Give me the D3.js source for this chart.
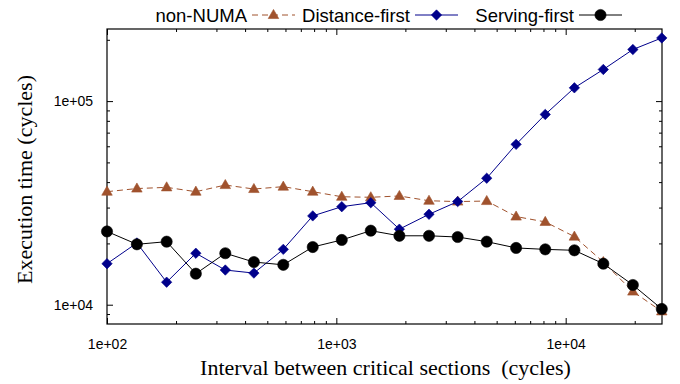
<!DOCTYPE html>
<html>
<head>
<meta charset="utf-8">
<script src="https://cdn.jsdelivr.net/npm/d3@7"></script>
<style>
  body { margin: 0; background: #ffffff; }
  svg { display: block; }
</style>
</head>
<body>
<svg id="chart" width="680" height="384"></svg>
<script>
// Interval between critical sections (cycles)
const intervals = [100, 135, 182, 244, 328, 437, 587, 789, 1056, 1413, 1883, 2535, 3381, 4526, 6079, 8146, 10913, 14592, 19630, 26240];

// Execution time (cycles) per policy
const nonNuma       = [35900, 37200, 37700, 35900, 38700, 37000, 38000, 35900, 33900, 33700, 34200, 32400, 32100, 32300, 27100, 25500, 21600, 16200, 11600, 9270];
const distanceFirst = [15900, 20100, 12900, 17900, 14800, 14300, 18700, 27300, 30300, 31700, 23500, 27800, 32100, 41800, 61300, 86000, 116200, 143000, 179200, 204300];
const servingFirst  = [22900, 19800, 20400, 14200, 17900, 16200, 15700, 19200, 20800, 23100, 21800, 21800, 21500, 20400, 19000, 18700, 18500, 15900, 12500, 9530];

const seriesNames = ["non-NUMA", "Distance-first", "Serving-first"];

const xTickValues = [100, 1000, 10000];
const xTickLabels = ["1e+02", "1e+03", "1e+04"];
const yTickValues = [10000, 100000];
const yTickLabels = ["1e+04", "1e+05"];

const xTitle = "Interval between critical sections  (cycles)";
const yTitle = "Execution time (cycles)";

// ---- layout ----
const plot = { left: 107, right: 662, top: 29, bottom: 324 };
const svg = d3.select("#chart");

const x = d3.scaleLog().domain([100, 26300]).range([plot.left, plot.right]);
const y = d3.scaleLog().domain([8040, 226000]).range([plot.bottom, plot.top]);

const series = [
  { name: seriesNames[0], values: nonNuma,       color: "#a0522d", dash: "6,4", marker: "triangle" },
  { name: seriesNames[1], values: distanceFirst, color: "#00008b", dash: null,  marker: "diamond" },
  { name: seriesNames[2], values: servingFirst,  color: "#000000", dash: null,  marker: "circle" }
];

const tickFont = "'Liberation Sans', Arial, sans-serif";
const titleFont = "'Liberation Serif', 'Times New Roman', serif";

// ---- axes (ticks point inward, mirrored on top and right) ----
const xMinor = x.ticks().filter(v => !xTickValues.includes(v));
const yMinor = y.ticks().filter(v => !yTickValues.includes(v));

function styleAxis(g) {
  g.select(".domain").remove();
  g.selectAll("line").attr("stroke", "#000").attr("stroke-width", 1);
  g.selectAll("text").attr("font-family", tickFont).attr("font-size", 14).attr("fill", "#000");
}

// bottom
svg.append("g").attr("transform", `translate(0,${plot.bottom})`)
  .call(d3.axisBottom(x).tickValues(xMinor).tickSize(-3).tickFormat(""))
  .call(styleAxis);
svg.append("g").attr("transform", `translate(0,${plot.bottom})`)
  .call(d3.axisBottom(x).tickValues(xTickValues).tickSize(-6).tickPadding(15)
    .tickFormat((d, i) => xTickLabels[i]))
  .call(styleAxis);
// top
svg.append("g").attr("transform", `translate(0,${plot.top})`)
  .call(d3.axisTop(x).tickValues(xMinor).tickSize(-3).tickFormat(""))
  .call(styleAxis);
svg.append("g").attr("transform", `translate(0,${plot.top})`)
  .call(d3.axisTop(x).tickValues(xTickValues).tickSize(-6).tickFormat(""))
  .call(styleAxis);
// left
svg.append("g").attr("transform", `translate(${plot.left},0)`)
  .call(d3.axisLeft(y).tickValues(yMinor).tickSize(-3).tickFormat(""))
  .call(styleAxis);
svg.append("g").attr("transform", `translate(${plot.left},0)`)
  .call(d3.axisLeft(y).tickValues(yTickValues).tickSize(-6).tickPadding(14)
    .tickFormat((d, i) => yTickLabels[i]))
  .call(styleAxis);
// right
svg.append("g").attr("transform", `translate(${plot.right},0)`)
  .call(d3.axisRight(y).tickValues(yMinor).tickSize(-3).tickFormat(""))
  .call(styleAxis);
svg.append("g").attr("transform", `translate(${plot.right},0)`)
  .call(d3.axisRight(y).tickValues(yTickValues).tickSize(-6).tickFormat(""))
  .call(styleAxis);

// border
svg.append("rect")
  .attr("x", plot.left).attr("y", plot.top)
  .attr("width", plot.right - plot.left).attr("height", plot.bottom - plot.top)
  .attr("fill", "none").attr("stroke", "#000").attr("stroke-width", 1.2);

// ---- markers ----
const markerPath = {
  triangle: d3.symbol().type(d3.symbolTriangle).size(48)(),
  diamond: "M0,-5.2L5.2,0L0,5.2L-5.2,0Z",
  circle: d3.symbol().type(d3.symbolCircle).size(Math.PI * 5.6 * 5.6)()
};

function drawMarker(g, s, px, py) {
  g.append("path")
    .attr("d", markerPath[s.marker])
    .attr("transform", `translate(${px},${py + (s.marker === "triangle" ? 0.5 : 0)})`)
    .attr("fill", s.color)
    .attr("stroke", s.color)
    .attr("stroke-width", 0.6);
}

const line = d3.line().x(d => x(d[0])).y(d => y(d[1]));

series.forEach(s => {
  const pts = intervals.map((v, i) => [v, s.values[i]]);
  const g = svg.append("g");
  g.append("path")
    .attr("d", line(pts))
    .attr("fill", "none")
    .attr("stroke", s.color)
    .attr("stroke-width", 1)
    .attr("stroke-dasharray", s.dash);
  pts.forEach(p => drawMarker(g, s, x(p[0]), y(p[1])));
});

// ---- legend ----
const legendY = 15;
const entryEnds = [247, 410, 574];
series.forEach((s, i) => {
  const g = svg.append("g");
  g.append("text")
    .attr("x", entryEnds[i]).attr("y", legendY + 6.5)
    .attr("text-anchor", "end")
    .attr("font-family", tickFont).attr("font-size", 18.5)
    .attr("fill", "#000")
    .text(s.name);
  const x0 = entryEnds[i] + 5, x1 = x0 + 43;
  g.append("line")
    .attr("x1", x0).attr("x2", x1).attr("y1", legendY).attr("y2", legendY)
    .attr("stroke", s.color).attr("stroke-width", 1)
    .attr("stroke-dasharray", s.dash);
  drawMarker(g, s, (x0 + x1) / 2, legendY);
});

// ---- axis titles ----
svg.append("text")
  .attr("x", (plot.left + plot.right) / 2 + 1).attr("y", 375)
  .attr("text-anchor", "middle")
  .attr("font-family", titleFont).attr("font-size", 22)
  .attr("fill", "#000")
  .attr("xml:space", "preserve")
  .style("white-space", "pre")
  .text(xTitle);

svg.append("text")
  .attr("transform", `translate(32,${(plot.top + plot.bottom) / 2 + 3}) rotate(-90)`)
  .attr("text-anchor", "middle")
  .attr("font-family", titleFont).attr("font-size", 22)
  .attr("fill", "#000")
  .text(yTitle);
</script>
</body>
</html>
